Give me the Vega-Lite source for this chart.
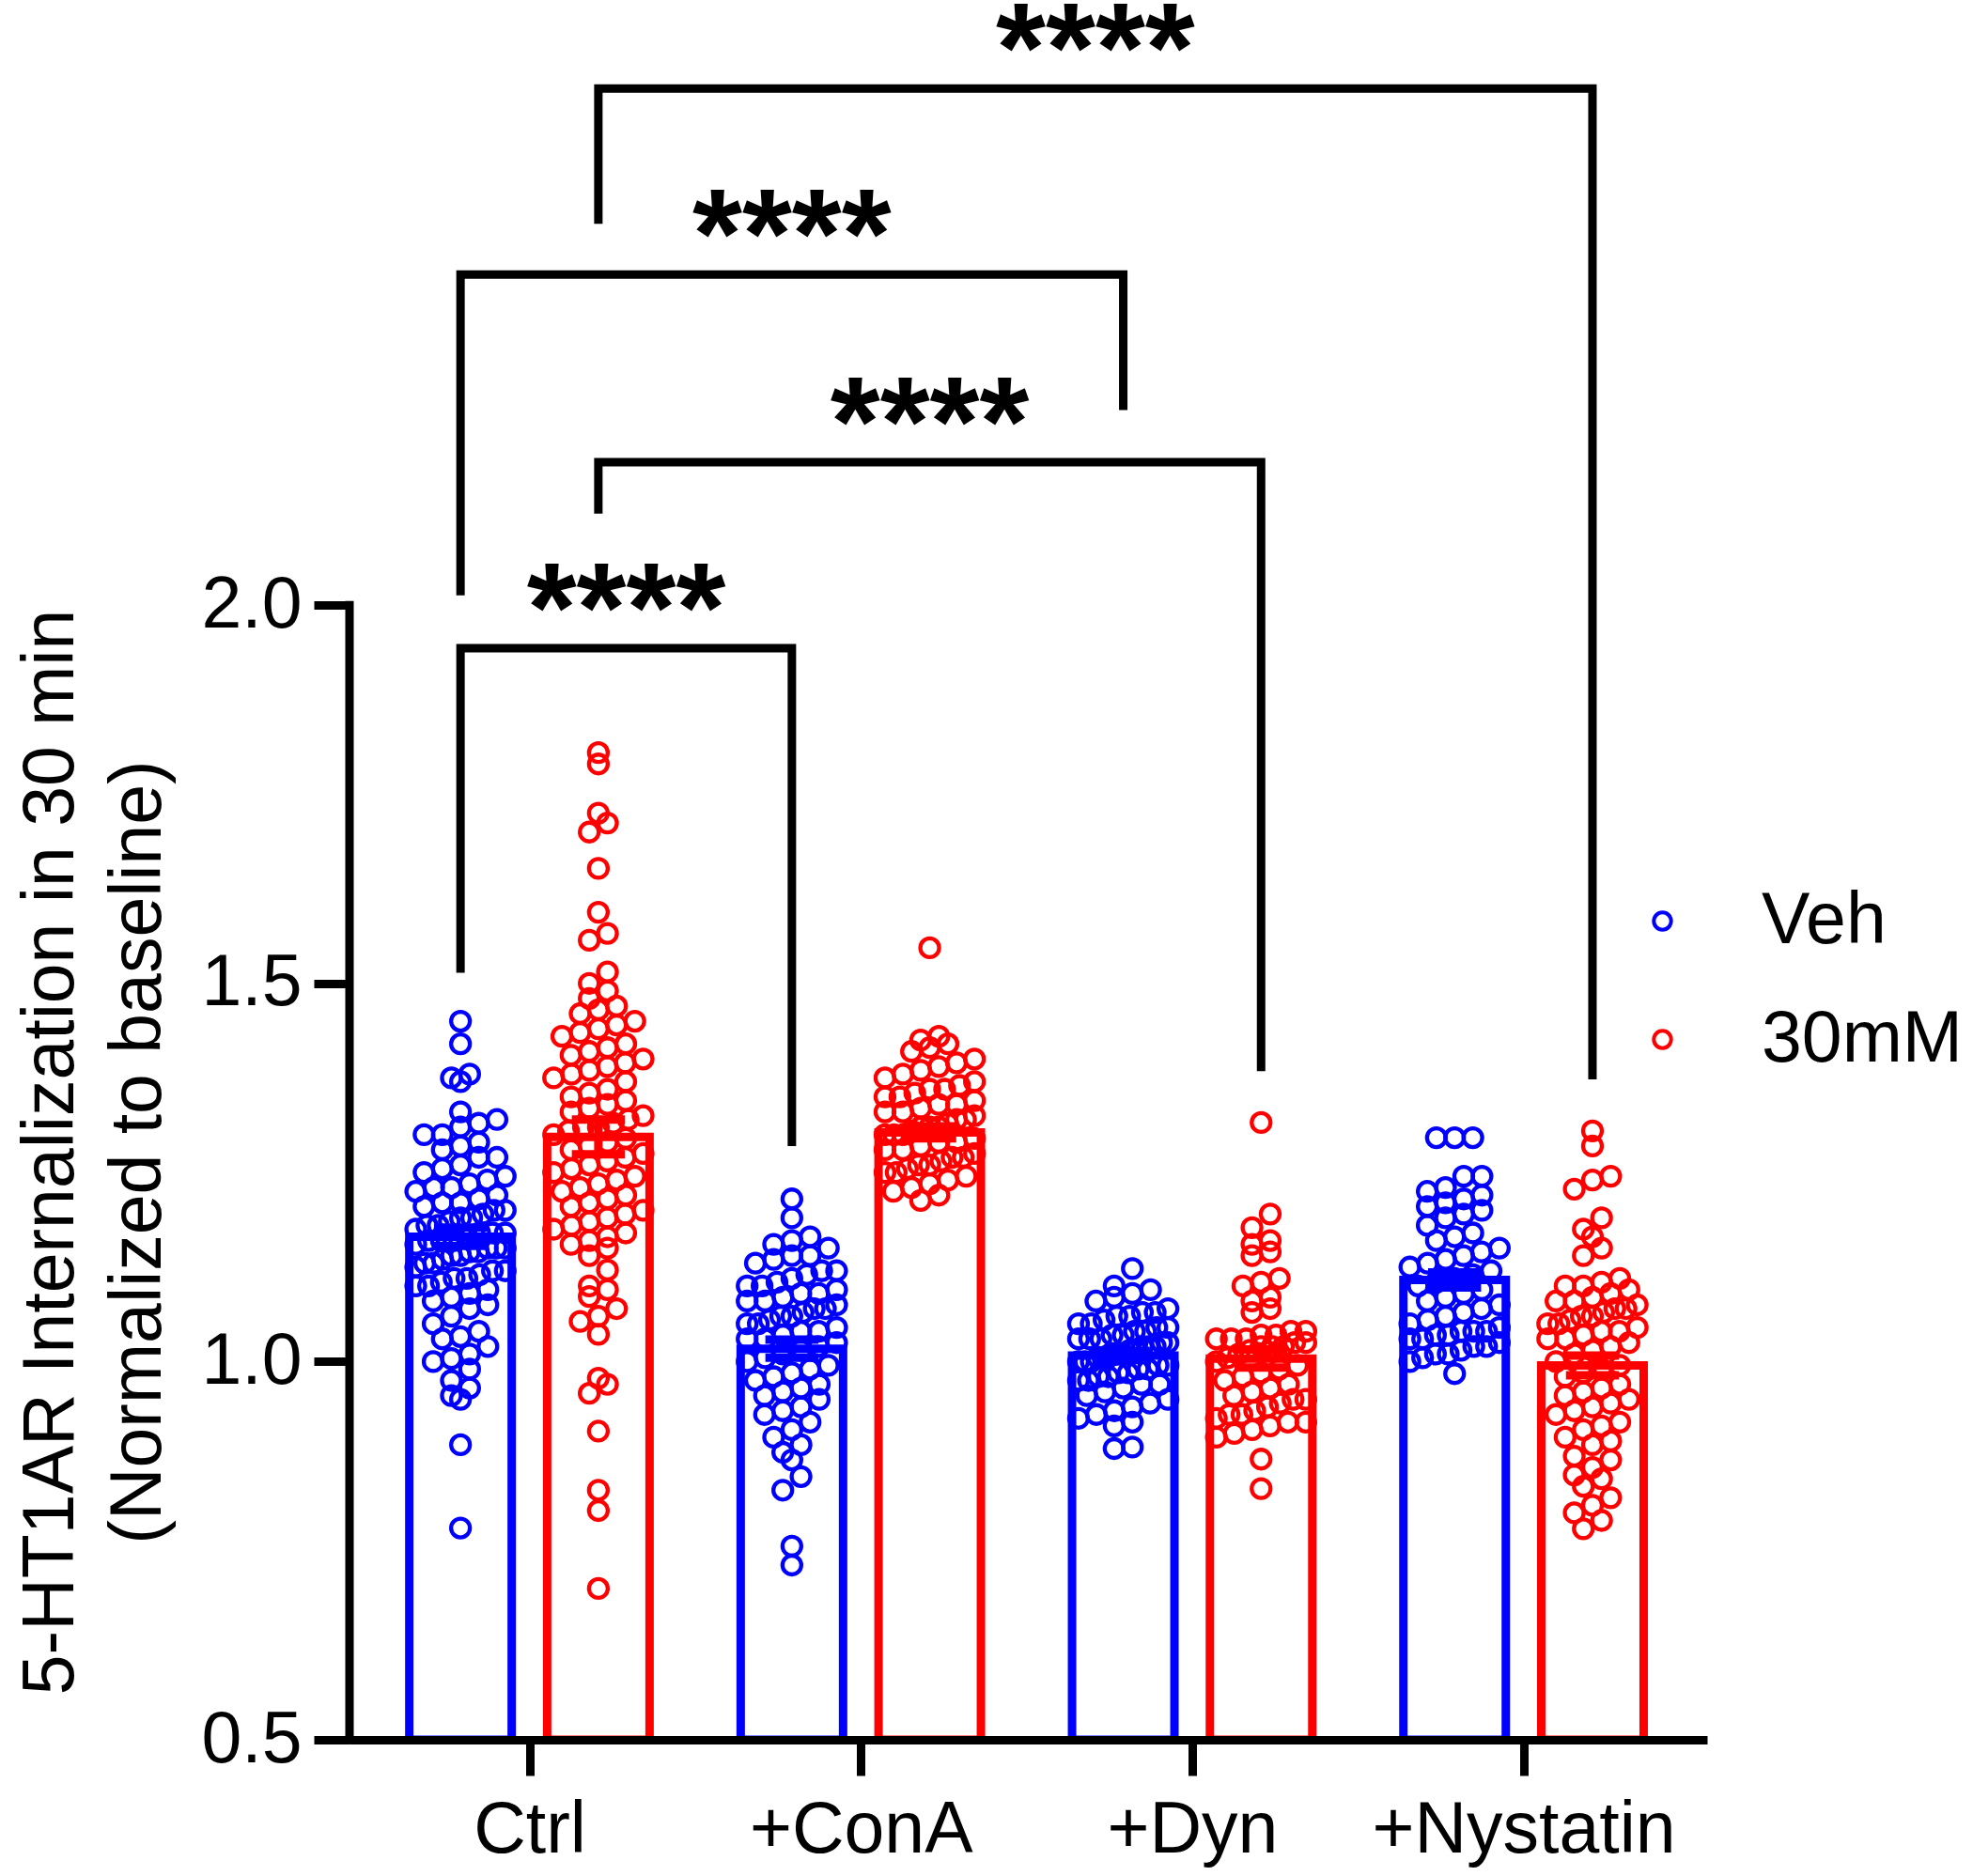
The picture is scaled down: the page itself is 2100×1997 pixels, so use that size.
{
  "$schema": "https://vega.github.io/schema/vega-lite/v6.json",
  "width": 1445,
  "height": 1852,
  "autosize": {"type": "none"},
  "padding": {"left": 372, "top": 0, "right": 283, "bottom": 145},
  "background": "white",
  "config": {"font": "Liberation Sans", "view": {"stroke": null}},
  "datasets": {
    "summary": [
      {"g": "Ctrl", "c": "Veh", "m": 1.165, "s": 0.012},
      {"g": "Ctrl", "c": "30mM", "m": 1.297, "s": 0.023},
      {"g": "+ConA", "c": "Veh", "m": 1.017, "s": 0.012},
      {"g": "+ConA", "c": "30mM", "m": 1.303, "s": 0.008},
      {"g": "+Dyn", "c": "Veh", "m": 1.008, "s": 0.006},
      {"g": "+Dyn", "c": "30mM", "m": 1.004, "s": 0.012},
      {"g": "+Nystatin", "c": "Veh", "m": 1.108, "s": 0.010},
      {"g": "+Nystatin", "c": "30mM", "m": 0.995, "s": 0.013}
    ],
    "brackets": [
      {"b": 1, "o": 1, "g": "Ctrl", "c": "Veh", "v": 1.514},
      {"b": 1, "o": 2, "g": "Ctrl", "c": "Veh", "v": 1.943},
      {"b": 1, "o": 3, "g": "+ConA", "c": "Veh", "v": 1.943},
      {"b": 1, "o": 4, "g": "+ConA", "c": "Veh", "v": 1.285},
      {"b": 2, "o": 1, "g": "Ctrl", "c": "30mM", "v": 2.121},
      {"b": 2, "o": 2, "g": "Ctrl", "c": "30mM", "v": 2.189},
      {"b": 2, "o": 3, "g": "+Dyn", "c": "30mM", "v": 2.189},
      {"b": 2, "o": 4, "g": "+Dyn", "c": "30mM", "v": 1.384},
      {"b": 3, "o": 1, "g": "Ctrl", "c": "Veh", "v": 2.013},
      {"b": 3, "o": 2, "g": "Ctrl", "c": "Veh", "v": 2.437},
      {"b": 3, "o": 3, "g": "+Dyn", "c": "Veh", "v": 2.437},
      {"b": 3, "o": 4, "g": "+Dyn", "c": "Veh", "v": 2.258},
      {"b": 4, "o": 1, "g": "Ctrl", "c": "30mM", "v": 2.504},
      {"b": 4, "o": 2, "g": "Ctrl", "c": "30mM", "v": 2.683},
      {"b": 4, "o": 3, "g": "+Nystatin", "c": "30mM", "v": 2.683},
      {"b": 4, "o": 4, "g": "+Nystatin", "c": "30mM", "v": 1.373}
    ],
    "stars": [
      {"b": 1, "g1": "Ctrl", "c1": "Veh", "g2": "+ConA", "c2": "Veh", "v": 1.943, "t": "****"},
      {"b": 2, "g1": "Ctrl", "c1": "30mM", "g2": "+Dyn", "c2": "30mM", "v": 2.189, "t": "****"},
      {"b": 3, "g1": "Ctrl", "c1": "Veh", "g2": "+Dyn", "c2": "Veh", "v": 2.437, "t": "****"},
      {"b": 4, "g1": "Ctrl", "c1": "30mM", "g2": "+Nystatin", "c2": "30mM", "v": 2.683, "t": "****"}
    ],
    "axisline": [{"lo": 0.5, "hi": 2.0}],
    "points": [
      {"g":"Ctrl","c":"Veh","v":1.45},{"g":"Ctrl","c":"Veh","v":1.42},{"g":"Ctrl","c":"Veh","v":1.38},{"g":"Ctrl","c":"Veh","v":1.375},{"g":"Ctrl","c":"Veh","v":1.37},
      {"g":"Ctrl","c":"Veh","v":1.33},{"g":"Ctrl","c":"Veh","v":1.32},{"g":"Ctrl","c":"Veh","v":1.315},{"g":"Ctrl","c":"Veh","v":1.31},{"g":"Ctrl","c":"Veh","v":1.30},{"g":"Ctrl","c":"Veh","v":1.30},{"g":"Ctrl","c":"Veh","v":1.29},{"g":"Ctrl","c":"Veh","v":1.285},{"g":"Ctrl","c":"Veh","v":1.28},{"g":"Ctrl","c":"Veh","v":1.27},
      {"g":"Ctrl","c":"Veh","v":1.27},{"g":"Ctrl","c":"Veh","v":1.26},{"g":"Ctrl","c":"Veh","v":1.255},{"g":"Ctrl","c":"Veh","v":1.25},{"g":"Ctrl","c":"Veh","v":1.245},{"g":"Ctrl","c":"Veh","v":1.24},{"g":"Ctrl","c":"Veh","v":1.235},{"g":"Ctrl","c":"Veh","v":1.23},{"g":"Ctrl","c":"Veh","v":1.23},{"g":"Ctrl","c":"Veh","v":1.225},
      {"g":"Ctrl","c":"Veh","v":1.22},{"g":"Ctrl","c":"Veh","v":1.215},{"g":"Ctrl","c":"Veh","v":1.21},{"g":"Ctrl","c":"Veh","v":1.21},{"g":"Ctrl","c":"Veh","v":1.205},{"g":"Ctrl","c":"Veh","v":1.20},{"g":"Ctrl","c":"Veh","v":1.20},{"g":"Ctrl","c":"Veh","v":1.195},{"g":"Ctrl","c":"Veh","v":1.19},{"g":"Ctrl","c":"Veh","v":1.19},
      {"g":"Ctrl","c":"Veh","v":1.185},{"g":"Ctrl","c":"Veh","v":1.18},{"g":"Ctrl","c":"Veh","v":1.18},{"g":"Ctrl","c":"Veh","v":1.175},{"g":"Ctrl","c":"Veh","v":1.17},{"g":"Ctrl","c":"Veh","v":1.17},{"g":"Ctrl","c":"Veh","v":1.17},{"g":"Ctrl","c":"Veh","v":1.165},{"g":"Ctrl","c":"Veh","v":1.16},{"g":"Ctrl","c":"Veh","v":1.16},
      {"g":"Ctrl","c":"Veh","v":1.16},{"g":"Ctrl","c":"Veh","v":1.155},{"g":"Ctrl","c":"Veh","v":1.15},{"g":"Ctrl","c":"Veh","v":1.15},{"g":"Ctrl","c":"Veh","v":1.15},{"g":"Ctrl","c":"Veh","v":1.145},{"g":"Ctrl","c":"Veh","v":1.145},{"g":"Ctrl","c":"Veh","v":1.14},{"g":"Ctrl","c":"Veh","v":1.14},{"g":"Ctrl","c":"Veh","v":1.135},
      {"g":"Ctrl","c":"Veh","v":1.13},{"g":"Ctrl","c":"Veh","v":1.13},{"g":"Ctrl","c":"Veh","v":1.125},{"g":"Ctrl","c":"Veh","v":1.12},{"g":"Ctrl","c":"Veh","v":1.12},{"g":"Ctrl","c":"Veh","v":1.115},{"g":"Ctrl","c":"Veh","v":1.11},{"g":"Ctrl","c":"Veh","v":1.11},{"g":"Ctrl","c":"Veh","v":1.105},{"g":"Ctrl","c":"Veh","v":1.10},
      {"g":"Ctrl","c":"Veh","v":1.10},{"g":"Ctrl","c":"Veh","v":1.095},{"g":"Ctrl","c":"Veh","v":1.09},{"g":"Ctrl","c":"Veh","v":1.085},{"g":"Ctrl","c":"Veh","v":1.08},{"g":"Ctrl","c":"Veh","v":1.075},
      {"g":"Ctrl","c":"Veh","v":1.07},{"g":"Ctrl","c":"Veh","v":1.06},{"g":"Ctrl","c":"Veh","v":1.05},{"g":"Ctrl","c":"Veh","v":1.04},{"g":"Ctrl","c":"Veh","v":1.033},{"g":"Ctrl","c":"Veh","v":1.03},{"g":"Ctrl","c":"Veh","v":1.02},{"g":"Ctrl","c":"Veh","v":1.01},{"g":"Ctrl","c":"Veh","v":1.004},{"g":"Ctrl","c":"Veh","v":1.0},{"g":"Ctrl","c":"Veh","v":0.99},{"g":"Ctrl","c":"Veh","v":0.975},{"g":"Ctrl","c":"Veh","v":0.965},{"g":"Ctrl","c":"Veh","v":0.955},{"g":"Ctrl","c":"Veh","v":0.95},{"g":"Ctrl","c":"Veh","v":0.89},{"g":"Ctrl","c":"Veh","v":0.78},

      {"g":"Ctrl","c":"30mM","v":1.805},{"g":"Ctrl","c":"30mM","v":1.79},{"g":"Ctrl","c":"30mM","v":1.725},{"g":"Ctrl","c":"30mM","v":1.712},{"g":"Ctrl","c":"30mM","v":1.70},{"g":"Ctrl","c":"30mM","v":1.652},{"g":"Ctrl","c":"30mM","v":1.594},{"g":"Ctrl","c":"30mM","v":1.566},{"g":"Ctrl","c":"30mM","v":1.557},{"g":"Ctrl","c":"30mM","v":1.515},{"g":"Ctrl","c":"30mM","v":1.50},{"g":"Ctrl","c":"30mM","v":1.49},{"g":"Ctrl","c":"30mM","v":1.48},
      {"g":"Ctrl","c":"30mM","v":1.47},{"g":"Ctrl","c":"30mM","v":1.465},{"g":"Ctrl","c":"30mM","v":1.46},{"g":"Ctrl","c":"30mM","v":1.45},{"g":"Ctrl","c":"30mM","v":1.445},{"g":"Ctrl","c":"30mM","v":1.44},{"g":"Ctrl","c":"30mM","v":1.435},{"g":"Ctrl","c":"30mM","v":1.43},{"g":"Ctrl","c":"30mM","v":1.42},{"g":"Ctrl","c":"30mM","v":1.415},
      {"g":"Ctrl","c":"30mM","v":1.41},{"g":"Ctrl","c":"30mM","v":1.405},{"g":"Ctrl","c":"30mM","v":1.40},{"g":"Ctrl","c":"30mM","v":1.395},{"g":"Ctrl","c":"30mM","v":1.39},{"g":"Ctrl","c":"30mM","v":1.385},{"g":"Ctrl","c":"30mM","v":1.38},{"g":"Ctrl","c":"30mM","v":1.375},{"g":"Ctrl","c":"30mM","v":1.37},{"g":"Ctrl","c":"30mM","v":1.36},
      {"g":"Ctrl","c":"30mM","v":1.355},{"g":"Ctrl","c":"30mM","v":1.35},{"g":"Ctrl","c":"30mM","v":1.345},{"g":"Ctrl","c":"30mM","v":1.34},{"g":"Ctrl","c":"30mM","v":1.335},{"g":"Ctrl","c":"30mM","v":1.33},{"g":"Ctrl","c":"30mM","v":1.325},{"g":"Ctrl","c":"30mM","v":1.32},{"g":"Ctrl","c":"30mM","v":1.315},{"g":"Ctrl","c":"30mM","v":1.31},
      {"g":"Ctrl","c":"30mM","v":1.31},{"g":"Ctrl","c":"30mM","v":1.305},{"g":"Ctrl","c":"30mM","v":1.30},{"g":"Ctrl","c":"30mM","v":1.295},{"g":"Ctrl","c":"30mM","v":1.29},{"g":"Ctrl","c":"30mM","v":1.285},{"g":"Ctrl","c":"30mM","v":1.28},{"g":"Ctrl","c":"30mM","v":1.275},{"g":"Ctrl","c":"30mM","v":1.27},{"g":"Ctrl","c":"30mM","v":1.265},
      {"g":"Ctrl","c":"30mM","v":1.26},{"g":"Ctrl","c":"30mM","v":1.255},{"g":"Ctrl","c":"30mM","v":1.25},{"g":"Ctrl","c":"30mM","v":1.245},{"g":"Ctrl","c":"30mM","v":1.24},{"g":"Ctrl","c":"30mM","v":1.235},{"g":"Ctrl","c":"30mM","v":1.23},{"g":"Ctrl","c":"30mM","v":1.225},{"g":"Ctrl","c":"30mM","v":1.22},{"g":"Ctrl","c":"30mM","v":1.215},
      {"g":"Ctrl","c":"30mM","v":1.21},{"g":"Ctrl","c":"30mM","v":1.205},{"g":"Ctrl","c":"30mM","v":1.20},{"g":"Ctrl","c":"30mM","v":1.195},{"g":"Ctrl","c":"30mM","v":1.19},{"g":"Ctrl","c":"30mM","v":1.185},{"g":"Ctrl","c":"30mM","v":1.18},{"g":"Ctrl","c":"30mM","v":1.175},{"g":"Ctrl","c":"30mM","v":1.17},{"g":"Ctrl","c":"30mM","v":1.165},
      {"g":"Ctrl","c":"30mM","v":1.16},{"g":"Ctrl","c":"30mM","v":1.155},{"g":"Ctrl","c":"30mM","v":1.15},{"g":"Ctrl","c":"30mM","v":1.14},
      {"g":"Ctrl","c":"30mM","v":1.121},{"g":"Ctrl","c":"30mM","v":1.10},{"g":"Ctrl","c":"30mM","v":1.095},{"g":"Ctrl","c":"30mM","v":1.086},{"g":"Ctrl","c":"30mM","v":1.07},{"g":"Ctrl","c":"30mM","v":1.06},{"g":"Ctrl","c":"30mM","v":1.053},{"g":"Ctrl","c":"30mM","v":1.036},{"g":"Ctrl","c":"30mM","v":0.978},{"g":"Ctrl","c":"30mM","v":0.97},{"g":"Ctrl","c":"30mM","v":0.958},{"g":"Ctrl","c":"30mM","v":0.908},{"g":"Ctrl","c":"30mM","v":0.83},{"g":"Ctrl","c":"30mM","v":0.803},{"g":"Ctrl","c":"30mM","v":0.70},

      {"g":"+ConA","c":"Veh","v":1.215},{"g":"+ConA","c":"Veh","v":1.19},{"g":"+ConA","c":"Veh","v":1.165},{"g":"+ConA","c":"Veh","v":1.16},{"g":"+ConA","c":"Veh","v":1.155},{"g":"+ConA","c":"Veh","v":1.15},{"g":"+ConA","c":"Veh","v":1.14},{"g":"+ConA","c":"Veh","v":1.14},{"g":"+ConA","c":"Veh","v":1.135},{"g":"+ConA","c":"Veh","v":1.13},
      {"g":"+ConA","c":"Veh","v":1.12},{"g":"+ConA","c":"Veh","v":1.12},{"g":"+ConA","c":"Veh","v":1.115},{"g":"+ConA","c":"Veh","v":1.11},{"g":"+ConA","c":"Veh","v":1.105},{"g":"+ConA","c":"Veh","v":1.10},{"g":"+ConA","c":"Veh","v":1.10},{"g":"+ConA","c":"Veh","v":1.095},{"g":"+ConA","c":"Veh","v":1.09},{"g":"+ConA","c":"Veh","v":1.09},
      {"g":"+ConA","c":"Veh","v":1.085},{"g":"+ConA","c":"Veh","v":1.08},{"g":"+ConA","c":"Veh","v":1.08},{"g":"+ConA","c":"Veh","v":1.075},{"g":"+ConA","c":"Veh","v":1.07},{"g":"+ConA","c":"Veh","v":1.07},{"g":"+ConA","c":"Veh","v":1.065},{"g":"+ConA","c":"Veh","v":1.06},{"g":"+ConA","c":"Veh","v":1.06},{"g":"+ConA","c":"Veh","v":1.055},
      {"g":"+ConA","c":"Veh","v":1.05},{"g":"+ConA","c":"Veh","v":1.05},{"g":"+ConA","c":"Veh","v":1.045},{"g":"+ConA","c":"Veh","v":1.04},{"g":"+ConA","c":"Veh","v":1.04},{"g":"+ConA","c":"Veh","v":1.035},{"g":"+ConA","c":"Veh","v":1.03},{"g":"+ConA","c":"Veh","v":1.03},{"g":"+ConA","c":"Veh","v":1.025},{"g":"+ConA","c":"Veh","v":1.02},
      {"g":"+ConA","c":"Veh","v":1.015},{"g":"+ConA","c":"Veh","v":1.01},{"g":"+ConA","c":"Veh","v":1.005},{"g":"+ConA","c":"Veh","v":1.0},{"g":"+ConA","c":"Veh","v":0.995},{"g":"+ConA","c":"Veh","v":0.99},{"g":"+ConA","c":"Veh","v":0.985},{"g":"+ConA","c":"Veh","v":0.98},{"g":"+ConA","c":"Veh","v":0.975},{"g":"+ConA","c":"Veh","v":0.97},
      {"g":"+ConA","c":"Veh","v":0.965},{"g":"+ConA","c":"Veh","v":0.96},{"g":"+ConA","c":"Veh","v":0.955},{"g":"+ConA","c":"Veh","v":0.95},{"g":"+ConA","c":"Veh","v":0.94},{"g":"+ConA","c":"Veh","v":0.935},{"g":"+ConA","c":"Veh","v":0.93},{"g":"+ConA","c":"Veh","v":0.92},{"g":"+ConA","c":"Veh","v":0.91},{"g":"+ConA","c":"Veh","v":0.90},
      {"g":"+ConA","c":"Veh","v":0.89},{"g":"+ConA","c":"Veh","v":0.88},{"g":"+ConA","c":"Veh","v":0.87},{"g":"+ConA","c":"Veh","v":0.848},{"g":"+ConA","c":"Veh","v":0.83},{"g":"+ConA","c":"Veh","v":0.756},{"g":"+ConA","c":"Veh","v":0.731},

      {"g":"+ConA","c":"30mM","v":1.547},{"g":"+ConA","c":"30mM","v":1.43},{"g":"+ConA","c":"30mM","v":1.425},{"g":"+ConA","c":"30mM","v":1.42},{"g":"+ConA","c":"30mM","v":1.415},{"g":"+ConA","c":"30mM","v":1.41},{"g":"+ConA","c":"30mM","v":1.40},{"g":"+ConA","c":"30mM","v":1.395},{"g":"+ConA","c":"30mM","v":1.39},{"g":"+ConA","c":"30mM","v":1.385},
      {"g":"+ConA","c":"30mM","v":1.38},{"g":"+ConA","c":"30mM","v":1.375},{"g":"+ConA","c":"30mM","v":1.37},{"g":"+ConA","c":"30mM","v":1.365},{"g":"+ConA","c":"30mM","v":1.36},{"g":"+ConA","c":"30mM","v":1.36},{"g":"+ConA","c":"30mM","v":1.355},{"g":"+ConA","c":"30mM","v":1.35},{"g":"+ConA","c":"30mM","v":1.35},{"g":"+ConA","c":"30mM","v":1.345},
      {"g":"+ConA","c":"30mM","v":1.34},{"g":"+ConA","c":"30mM","v":1.34},{"g":"+ConA","c":"30mM","v":1.335},{"g":"+ConA","c":"30mM","v":1.33},{"g":"+ConA","c":"30mM","v":1.33},{"g":"+ConA","c":"30mM","v":1.325},{"g":"+ConA","c":"30mM","v":1.32},{"g":"+ConA","c":"30mM","v":1.32},{"g":"+ConA","c":"30mM","v":1.315},{"g":"+ConA","c":"30mM","v":1.31},
      {"g":"+ConA","c":"30mM","v":1.31},{"g":"+ConA","c":"30mM","v":1.31},{"g":"+ConA","c":"30mM","v":1.305},{"g":"+ConA","c":"30mM","v":1.30},{"g":"+ConA","c":"30mM","v":1.30},{"g":"+ConA","c":"30mM","v":1.30},{"g":"+ConA","c":"30mM","v":1.295},{"g":"+ConA","c":"30mM","v":1.29},{"g":"+ConA","c":"30mM","v":1.29},{"g":"+ConA","c":"30mM","v":1.285},
      {"g":"+ConA","c":"30mM","v":1.28},{"g":"+ConA","c":"30mM","v":1.28},{"g":"+ConA","c":"30mM","v":1.275},{"g":"+ConA","c":"30mM","v":1.27},{"g":"+ConA","c":"30mM","v":1.27},{"g":"+ConA","c":"30mM","v":1.265},{"g":"+ConA","c":"30mM","v":1.26},{"g":"+ConA","c":"30mM","v":1.26},{"g":"+ConA","c":"30mM","v":1.255},{"g":"+ConA","c":"30mM","v":1.25},
      {"g":"+ConA","c":"30mM","v":1.25},{"g":"+ConA","c":"30mM","v":1.245},{"g":"+ConA","c":"30mM","v":1.24},{"g":"+ConA","c":"30mM","v":1.235},{"g":"+ConA","c":"30mM","v":1.23},{"g":"+ConA","c":"30mM","v":1.225},{"g":"+ConA","c":"30mM","v":1.22},{"g":"+ConA","c":"30mM","v":1.213},

      {"g":"+Dyn","c":"Veh","v":1.123},{"g":"+Dyn","c":"Veh","v":1.10},{"g":"+Dyn","c":"Veh","v":1.095},{"g":"+Dyn","c":"Veh","v":1.09},{"g":"+Dyn","c":"Veh","v":1.085},{"g":"+Dyn","c":"Veh","v":1.08},{"g":"+Dyn","c":"Veh","v":1.07},{"g":"+Dyn","c":"Veh","v":1.065},{"g":"+Dyn","c":"Veh","v":1.065},{"g":"+Dyn","c":"Veh","v":1.06},
      {"g":"+Dyn","c":"Veh","v":1.06},{"g":"+Dyn","c":"Veh","v":1.055},{"g":"+Dyn","c":"Veh","v":1.05},{"g":"+Dyn","c":"Veh","v":1.05},{"g":"+Dyn","c":"Veh","v":1.045},{"g":"+Dyn","c":"Veh","v":1.045},{"g":"+Dyn","c":"Veh","v":1.04},{"g":"+Dyn","c":"Veh","v":1.04},{"g":"+Dyn","c":"Veh","v":1.035},{"g":"+Dyn","c":"Veh","v":1.035},
      {"g":"+Dyn","c":"Veh","v":1.03},{"g":"+Dyn","c":"Veh","v":1.03},{"g":"+Dyn","c":"Veh","v":1.03},{"g":"+Dyn","c":"Veh","v":1.025},{"g":"+Dyn","c":"Veh","v":1.025},{"g":"+Dyn","c":"Veh","v":1.02},{"g":"+Dyn","c":"Veh","v":1.02},{"g":"+Dyn","c":"Veh","v":1.02},{"g":"+Dyn","c":"Veh","v":1.015},{"g":"+Dyn","c":"Veh","v":1.015},
      {"g":"+Dyn","c":"Veh","v":1.01},{"g":"+Dyn","c":"Veh","v":1.01},{"g":"+Dyn","c":"Veh","v":1.01},{"g":"+Dyn","c":"Veh","v":1.005},{"g":"+Dyn","c":"Veh","v":1.005},{"g":"+Dyn","c":"Veh","v":1.0},{"g":"+Dyn","c":"Veh","v":1.0},{"g":"+Dyn","c":"Veh","v":1.0},{"g":"+Dyn","c":"Veh","v":0.995},{"g":"+Dyn","c":"Veh","v":0.995},
      {"g":"+Dyn","c":"Veh","v":0.99},{"g":"+Dyn","c":"Veh","v":0.99},{"g":"+Dyn","c":"Veh","v":0.985},{"g":"+Dyn","c":"Veh","v":0.985},{"g":"+Dyn","c":"Veh","v":0.98},{"g":"+Dyn","c":"Veh","v":0.98},{"g":"+Dyn","c":"Veh","v":0.975},{"g":"+Dyn","c":"Veh","v":0.975},{"g":"+Dyn","c":"Veh","v":0.97},{"g":"+Dyn","c":"Veh","v":0.97},
      {"g":"+Dyn","c":"Veh","v":0.965},{"g":"+Dyn","c":"Veh","v":0.96},{"g":"+Dyn","c":"Veh","v":0.955},{"g":"+Dyn","c":"Veh","v":0.95},{"g":"+Dyn","c":"Veh","v":0.945},{"g":"+Dyn","c":"Veh","v":0.94},{"g":"+Dyn","c":"Veh","v":0.935},{"g":"+Dyn","c":"Veh","v":0.93},{"g":"+Dyn","c":"Veh","v":0.925},{"g":"+Dyn","c":"Veh","v":0.92},
      {"g":"+Dyn","c":"Veh","v":0.915},{"g":"+Dyn","c":"Veh","v":0.887},{"g":"+Dyn","c":"Veh","v":0.885},

      {"g":"+Dyn","c":"30mM","v":1.316},{"g":"+Dyn","c":"30mM","v":1.195},{"g":"+Dyn","c":"30mM","v":1.177},{"g":"+Dyn","c":"30mM","v":1.16},{"g":"+Dyn","c":"30mM","v":1.155},{"g":"+Dyn","c":"30mM","v":1.145},{"g":"+Dyn","c":"30mM","v":1.14},{"g":"+Dyn","c":"30mM","v":1.11},{"g":"+Dyn","c":"30mM","v":1.105},{"g":"+Dyn","c":"30mM","v":1.10},
      {"g":"+Dyn","c":"30mM","v":1.085},{"g":"+Dyn","c":"30mM","v":1.08},{"g":"+Dyn","c":"30mM","v":1.07},{"g":"+Dyn","c":"30mM","v":1.065},{"g":"+Dyn","c":"30mM","v":1.04},{"g":"+Dyn","c":"30mM","v":1.04},{"g":"+Dyn","c":"30mM","v":1.035},{"g":"+Dyn","c":"30mM","v":1.035},{"g":"+Dyn","c":"30mM","v":1.03},{"g":"+Dyn","c":"30mM","v":1.03},
      {"g":"+Dyn","c":"30mM","v":1.03},{"g":"+Dyn","c":"30mM","v":1.025},{"g":"+Dyn","c":"30mM","v":1.025},{"g":"+Dyn","c":"30mM","v":1.02},{"g":"+Dyn","c":"30mM","v":1.02},{"g":"+Dyn","c":"30mM","v":1.02},{"g":"+Dyn","c":"30mM","v":1.015},{"g":"+Dyn","c":"30mM","v":1.01},{"g":"+Dyn","c":"30mM","v":1.005},{"g":"+Dyn","c":"30mM","v":1.0},
      {"g":"+Dyn","c":"30mM","v":0.995},{"g":"+Dyn","c":"30mM","v":0.99},{"g":"+Dyn","c":"30mM","v":0.985},{"g":"+Dyn","c":"30mM","v":0.98},{"g":"+Dyn","c":"30mM","v":0.975},{"g":"+Dyn","c":"30mM","v":0.97},{"g":"+Dyn","c":"30mM","v":0.965},{"g":"+Dyn","c":"30mM","v":0.96},{"g":"+Dyn","c":"30mM","v":0.955},{"g":"+Dyn","c":"30mM","v":0.95},
      {"g":"+Dyn","c":"30mM","v":0.95},{"g":"+Dyn","c":"30mM","v":0.945},{"g":"+Dyn","c":"30mM","v":0.94},{"g":"+Dyn","c":"30mM","v":0.935},{"g":"+Dyn","c":"30mM","v":0.93},{"g":"+Dyn","c":"30mM","v":0.93},{"g":"+Dyn","c":"30mM","v":0.925},{"g":"+Dyn","c":"30mM","v":0.92},{"g":"+Dyn","c":"30mM","v":0.92},{"g":"+Dyn","c":"30mM","v":0.915},
      {"g":"+Dyn","c":"30mM","v":0.91},{"g":"+Dyn","c":"30mM","v":0.905},{"g":"+Dyn","c":"30mM","v":0.90},{"g":"+Dyn","c":"30mM","v":0.871},{"g":"+Dyn","c":"30mM","v":0.832},

      {"g":"+Nystatin","c":"Veh","v":1.296},{"g":"+Nystatin","c":"Veh","v":1.296},{"g":"+Nystatin","c":"Veh","v":1.296},{"g":"+Nystatin","c":"Veh","v":1.245},{"g":"+Nystatin","c":"Veh","v":1.245},{"g":"+Nystatin","c":"Veh","v":1.23},{"g":"+Nystatin","c":"Veh","v":1.225},{"g":"+Nystatin","c":"Veh","v":1.22},{"g":"+Nystatin","c":"Veh","v":1.215},{"g":"+Nystatin","c":"Veh","v":1.21},
      {"g":"+Nystatin","c":"Veh","v":1.205},{"g":"+Nystatin","c":"Veh","v":1.20},{"g":"+Nystatin","c":"Veh","v":1.195},{"g":"+Nystatin","c":"Veh","v":1.19},{"g":"+Nystatin","c":"Veh","v":1.18},{"g":"+Nystatin","c":"Veh","v":1.17},{"g":"+Nystatin","c":"Veh","v":1.165},{"g":"+Nystatin","c":"Veh","v":1.16},{"g":"+Nystatin","c":"Veh","v":1.15},{"g":"+Nystatin","c":"Veh","v":1.145},
      {"g":"+Nystatin","c":"Veh","v":1.14},{"g":"+Nystatin","c":"Veh","v":1.135},{"g":"+Nystatin","c":"Veh","v":1.13},{"g":"+Nystatin","c":"Veh","v":1.125},{"g":"+Nystatin","c":"Veh","v":1.12},{"g":"+Nystatin","c":"Veh","v":1.115},{"g":"+Nystatin","c":"Veh","v":1.11},{"g":"+Nystatin","c":"Veh","v":1.105},{"g":"+Nystatin","c":"Veh","v":1.10},{"g":"+Nystatin","c":"Veh","v":1.095},
      {"g":"+Nystatin","c":"Veh","v":1.09},{"g":"+Nystatin","c":"Veh","v":1.085},{"g":"+Nystatin","c":"Veh","v":1.08},{"g":"+Nystatin","c":"Veh","v":1.075},{"g":"+Nystatin","c":"Veh","v":1.07},{"g":"+Nystatin","c":"Veh","v":1.065},{"g":"+Nystatin","c":"Veh","v":1.06},{"g":"+Nystatin","c":"Veh","v":1.055},{"g":"+Nystatin","c":"Veh","v":1.05},{"g":"+Nystatin","c":"Veh","v":1.045},
      {"g":"+Nystatin","c":"Veh","v":1.04},{"g":"+Nystatin","c":"Veh","v":1.04},{"g":"+Nystatin","c":"Veh","v":1.04},{"g":"+Nystatin","c":"Veh","v":1.035},{"g":"+Nystatin","c":"Veh","v":1.035},{"g":"+Nystatin","c":"Veh","v":1.03},{"g":"+Nystatin","c":"Veh","v":1.03},{"g":"+Nystatin","c":"Veh","v":1.025},{"g":"+Nystatin","c":"Veh","v":1.02},{"g":"+Nystatin","c":"Veh","v":1.02},
      {"g":"+Nystatin","c":"Veh","v":1.015},{"g":"+Nystatin","c":"Veh","v":1.01},{"g":"+Nystatin","c":"Veh","v":1.01},{"g":"+Nystatin","c":"Veh","v":1.005},{"g":"+Nystatin","c":"Veh","v":1.0},{"g":"+Nystatin","c":"Veh","v":0.984},

      {"g":"+Nystatin","c":"30mM","v":1.305},{"g":"+Nystatin","c":"30mM","v":1.285},{"g":"+Nystatin","c":"30mM","v":1.245},{"g":"+Nystatin","c":"30mM","v":1.24},{"g":"+Nystatin","c":"30mM","v":1.228},{"g":"+Nystatin","c":"30mM","v":1.19},{"g":"+Nystatin","c":"30mM","v":1.175},{"g":"+Nystatin","c":"30mM","v":1.165},{"g":"+Nystatin","c":"30mM","v":1.15},{"g":"+Nystatin","c":"30mM","v":1.14},
      {"g":"+Nystatin","c":"30mM","v":1.11},{"g":"+Nystatin","c":"30mM","v":1.105},{"g":"+Nystatin","c":"30mM","v":1.10},{"g":"+Nystatin","c":"30mM","v":1.10},{"g":"+Nystatin","c":"30mM","v":1.095},{"g":"+Nystatin","c":"30mM","v":1.09},{"g":"+Nystatin","c":"30mM","v":1.085},{"g":"+Nystatin","c":"30mM","v":1.08},{"g":"+Nystatin","c":"30mM","v":1.08},{"g":"+Nystatin","c":"30mM","v":1.075},
      {"g":"+Nystatin","c":"30mM","v":1.07},{"g":"+Nystatin","c":"30mM","v":1.07},{"g":"+Nystatin","c":"30mM","v":1.065},{"g":"+Nystatin","c":"30mM","v":1.06},{"g":"+Nystatin","c":"30mM","v":1.06},{"g":"+Nystatin","c":"30mM","v":1.055},{"g":"+Nystatin","c":"30mM","v":1.05},{"g":"+Nystatin","c":"30mM","v":1.05},{"g":"+Nystatin","c":"30mM","v":1.045},{"g":"+Nystatin","c":"30mM","v":1.04},
      {"g":"+Nystatin","c":"30mM","v":1.04},{"g":"+Nystatin","c":"30mM","v":1.035},{"g":"+Nystatin","c":"30mM","v":1.03},{"g":"+Nystatin","c":"30mM","v":1.03},{"g":"+Nystatin","c":"30mM","v":1.025},{"g":"+Nystatin","c":"30mM","v":1.02},{"g":"+Nystatin","c":"30mM","v":1.015},{"g":"+Nystatin","c":"30mM","v":1.01},{"g":"+Nystatin","c":"30mM","v":1.0},{"g":"+Nystatin","c":"30mM","v":0.995},
      {"g":"+Nystatin","c":"30mM","v":0.99},{"g":"+Nystatin","c":"30mM","v":0.985},{"g":"+Nystatin","c":"30mM","v":0.98},{"g":"+Nystatin","c":"30mM","v":0.97},{"g":"+Nystatin","c":"30mM","v":0.965},{"g":"+Nystatin","c":"30mM","v":0.96},{"g":"+Nystatin","c":"30mM","v":0.955},{"g":"+Nystatin","c":"30mM","v":0.95},{"g":"+Nystatin","c":"30mM","v":0.945},{"g":"+Nystatin","c":"30mM","v":0.94},
      {"g":"+Nystatin","c":"30mM","v":0.935},{"g":"+Nystatin","c":"30mM","v":0.93},{"g":"+Nystatin","c":"30mM","v":0.92},{"g":"+Nystatin","c":"30mM","v":0.915},{"g":"+Nystatin","c":"30mM","v":0.91},{"g":"+Nystatin","c":"30mM","v":0.90},{"g":"+Nystatin","c":"30mM","v":0.895},{"g":"+Nystatin","c":"30mM","v":0.89},{"g":"+Nystatin","c":"30mM","v":0.875},{"g":"+Nystatin","c":"30mM","v":0.87},
      {"g":"+Nystatin","c":"30mM","v":0.86},{"g":"+Nystatin","c":"30mM","v":0.85},{"g":"+Nystatin","c":"30mM","v":0.845},{"g":"+Nystatin","c":"30mM","v":0.835},{"g":"+Nystatin","c":"30mM","v":0.82},{"g":"+Nystatin","c":"30mM","v":0.81},{"g":"+Nystatin","c":"30mM","v":0.80},{"g":"+Nystatin","c":"30mM","v":0.79},{"g":"+Nystatin","c":"30mM","v":0.779}
    ]
  },
  "layer": [
    {
      "data": {"name": "summary"},
      "transform": [
        {"calculate": "indexof(['Ctrl','+ConA','+Dyn','+Nystatin'], datum.g) + (datum.c == 'Veh' ? -0.208 : 0.208)", "as": "xc"},
        {"calculate": "datum.xc - 0.1545", "as": "xl"},
        {"calculate": "datum.xc + 0.1545", "as": "xr"}
      ],
      "mark": {"type": "rect", "filled": false, "strokeWidth": 9},
      "encoding": {
        "x": {"field": "xl", "type": "quantitative",
          "scale": {"domain": [-0.543, 3.554], "nice": false, "zero": false},
          "axis": {"values": [0, 1, 2, 3], "labelExpr": "['Ctrl','+ConA','+Dyn','+Nystatin'][datum.value]", "title": null, "grid": false,
            "domainColor": "black", "domainWidth": 9, "tickColor": "black", "tickWidth": 9, "tickSize": 38,
            "labelFontSize": 77, "labelColor": "black", "labelPadding": 20, "labelFlush": false, "labelOverlap": false, "labelLimit": 0, "zindex": 1}},
        "x2": {"field": "xr"},
        "y": {"field": "m", "type": "quantitative",
          "scale": {"domain": [0.5, 2.8], "nice": false, "zero": false},
          "axis": {"values": [0.5, 1.0, 1.5, 2.0], "format": ".1f", "domain": false, "grid": false,
            "tickColor": "black", "tickWidth": 9, "tickSize": 38,
            "labelFontSize": 77, "labelColor": "black", "labelPadding": 13, "labelLimit": 0, "zindex": 1,
            "title": ["5-HT1AR Internalization in 30 min", "(Normalized to baseline)"],
            "titleFontSize": 77, "titleFontWeight": "normal", "titleColor": "black", "titleLimit": 0,
            "titleAngle": -90, "titleX": -318, "titleY": 1226, "titleAlign": "center", "titleBaseline": "middle", "titleLineHeight": 93}},
        "y2": {"datum": 0.5},
        "color": {"field": "c", "type": "nominal",
          "scale": {"domain": ["Veh", "30mM"], "range": ["#0000ff", "#ff0000"]},
          "legend": {"title": null, "orient": "none", "legendX": 1359, "legendY": 942, "padding": 0,
            "symbolType": "circle", "symbolSize": 340, "symbolStrokeWidth": 4,
            "labelFontSize": 77, "labelColor": "black", "labelOffset": 67, "labelLimit": 0, "rowPadding": 48}}
      }
    },
    {
      "data": {"name": "points"},
      "transform": [
        {"calculate": "indexof(['Ctrl','+ConA','+Dyn','+Nystatin'], datum.g) + (datum.c == 'Veh' ? -0.208 : 0.208)", "as": "xc"},
        {"calculate": "floor(datum.v / 0.025)", "as": "vb"},
        {"window": [{"op": "row_number", "as": "r"}], "groupby": ["g", "c", "vb"], "sort": [{"field": "v", "order": "ascending"}]},
        {"joinaggregate": [{"op": "count", "as": "n"}], "groupby": ["g", "c", "vb"]},
        {"calculate": "min(0.055, 0.27 / max(datum.n - 1, 1))", "as": "sp"},
        {"calculate": "datum.xc + (datum.r - 1 - (datum.n - 1) / 2) * datum.sp", "as": "xp"}
      ],
      "mark": {"type": "point", "shape": "circle", "filled": false, "size": 400, "strokeWidth": 4.3, "opacity": 1},
      "encoding": {
        "x": {"field": "xp", "type": "quantitative", "scale": {"domain": [-0.543, 3.554], "nice": false, "zero": false}},
        "y": {"field": "v", "type": "quantitative", "scale": {"domain": [0.5, 2.8], "nice": false, "zero": false}},
        "color": {"field": "c", "type": "nominal"}
      }
    },
    {
      "data": {"name": "summary"},
      "transform": [
        {"calculate": "indexof(['Ctrl','+ConA','+Dyn','+Nystatin'], datum.g) + (datum.c == 'Veh' ? -0.208 : 0.208)", "as": "xc"},
        {"calculate": "datum.m - datum.s", "as": "lo"},
        {"calculate": "datum.m + datum.s", "as": "hi"}
      ],
      "mark": {"type": "rule", "strokeWidth": 9},
      "encoding": {
        "x": {"field": "xc", "type": "quantitative", "scale": {"domain": [-0.543, 3.554], "nice": false, "zero": false}},
        "y": {"field": "lo", "type": "quantitative", "scale": {"domain": [0.5, 2.8], "nice": false, "zero": false}},
        "y2": {"field": "hi"},
        "color": {"field": "c", "type": "nominal"}
      }
    },
    {
      "data": {"name": "summary"},
      "transform": [
        {"calculate": "indexof(['Ctrl','+ConA','+Dyn','+Nystatin'], datum.g) + (datum.c == 'Veh' ? -0.208 : 0.208)", "as": "xc"},
        {"calculate": "datum.xc - 0.08", "as": "cl"},
        {"calculate": "datum.xc + 0.08", "as": "cr"},
        {"calculate": "datum.m + datum.s", "as": "hi"}
      ],
      "mark": {"type": "rule", "strokeWidth": 9},
      "encoding": {
        "x": {"field": "cl", "type": "quantitative", "scale": {"domain": [-0.543, 3.554], "nice": false, "zero": false}},
        "x2": {"field": "cr"},
        "y": {"field": "hi", "type": "quantitative", "scale": {"domain": [0.5, 2.8], "nice": false, "zero": false}},
        "color": {"field": "c", "type": "nominal"}
      }
    },
    {
      "data": {"name": "summary"},
      "transform": [
        {"calculate": "indexof(['Ctrl','+ConA','+Dyn','+Nystatin'], datum.g) + (datum.c == 'Veh' ? -0.208 : 0.208)", "as": "xc"},
        {"calculate": "datum.xc - 0.08", "as": "cl"},
        {"calculate": "datum.xc + 0.08", "as": "cr"},
        {"calculate": "datum.m - datum.s", "as": "lo"}
      ],
      "mark": {"type": "rule", "strokeWidth": 9},
      "encoding": {
        "x": {"field": "cl", "type": "quantitative", "scale": {"domain": [-0.543, 3.554], "nice": false, "zero": false}},
        "x2": {"field": "cr"},
        "y": {"field": "lo", "type": "quantitative", "scale": {"domain": [0.5, 2.8], "nice": false, "zero": false}},
        "color": {"field": "c", "type": "nominal"}
      }
    },
    {
      "data": {"name": "brackets"},
      "transform": [
        {"calculate": "indexof(['Ctrl','+ConA','+Dyn','+Nystatin'], datum.g) + (datum.c == 'Veh' ? -0.208 : 0.208)", "as": "xc"}
      ],
      "mark": {"type": "line", "color": "black", "strokeWidth": 9, "strokeJoin": "miter", "strokeCap": "butt"},
      "encoding": {
        "x": {"field": "xc", "type": "quantitative", "scale": {"domain": [-0.543, 3.554], "nice": false, "zero": false}},
        "y": {"field": "v", "type": "quantitative", "scale": {"domain": [0.5, 2.8], "nice": false, "zero": false}},
        "detail": {"field": "b", "type": "nominal"},
        "order": {"field": "o", "type": "quantitative"}
      }
    },
    {
      "data": {"name": "stars"},
      "transform": [
        {"calculate": "indexof(['Ctrl','+ConA','+Dyn','+Nystatin'], datum.g1) + (datum.c1 == 'Veh' ? -0.208 : 0.208)", "as": "x1"},
        {"calculate": "indexof(['Ctrl','+ConA','+Dyn','+Nystatin'], datum.g2) + (datum.c2 == 'Veh' ? -0.208 : 0.208)", "as": "x2"},
        {"calculate": "(datum.x1 + datum.x2) / 2", "as": "xm"}
      ],
      "mark": {"type": "text", "fontSize": 136, "fontWeight": "bold", "color": "black", "align": "center", "baseline": "alphabetic", "dy": 3},
      "encoding": {
        "x": {"field": "xm", "type": "quantitative", "scale": {"domain": [-0.543, 3.554], "nice": false, "zero": false}},
        "y": {"field": "v", "type": "quantitative", "scale": {"domain": [0.5, 2.8], "nice": false, "zero": false}},
        "text": {"field": "t"}
      }
    },
    {
      "data": {"name": "axisline"},
      "mark": {"type": "rule", "color": "black", "strokeWidth": 9, "strokeCap": "square"},
      "encoding": {
        "x": {"datum": -0.543, "type": "quantitative", "scale": {"domain": [-0.543, 3.554], "nice": false, "zero": false}},
        "y": {"field": "lo", "type": "quantitative", "scale": {"domain": [0.5, 2.8], "nice": false, "zero": false}},
        "y2": {"field": "hi"}
      }
    }
  ]
}
